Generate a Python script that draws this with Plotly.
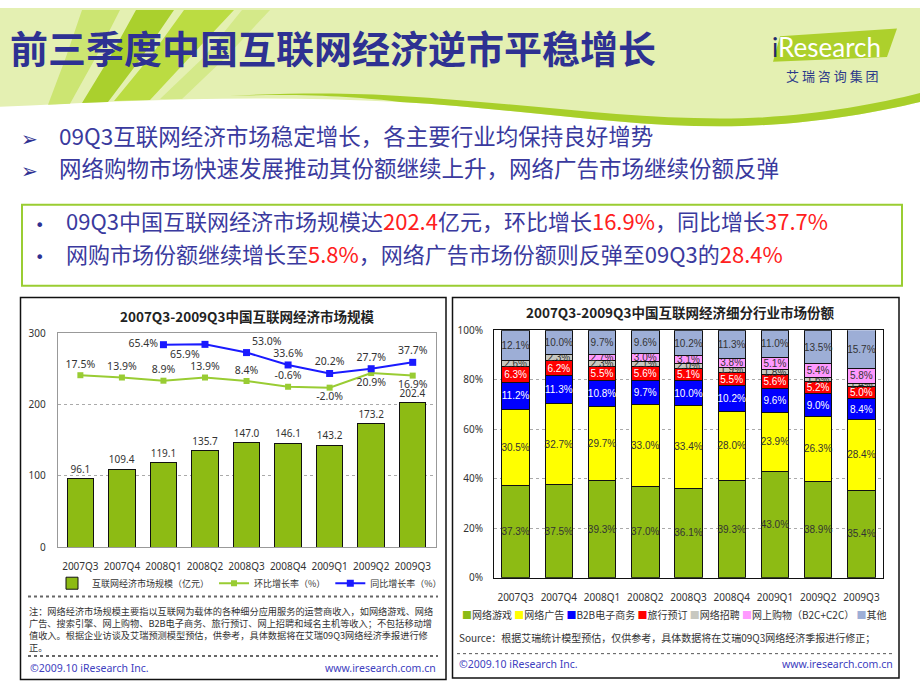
import base64
import plotly.graph_objects as go

# ---------------- data ----------------
quarters = ["2007Q3", "2007Q4", "2008Q1", "2008Q2", "2008Q3", "2008Q4", "2009Q1", "2009Q2", "2009Q3"]
market_size = [96.1, 109.4, 119.1, 135.7, 147.0, 146.1, 143.2, 173.2, 202.4]
qoq_growth = [17.5, 13.9, 8.9, 13.9, 8.4, -0.6, -2.0, 20.9, 16.9]
yoy_quarters = quarters[2:]
yoy_growth = [65.4, 65.9, 53.0, 33.6, 20.2, 27.7, 37.7]

seg_names = ["网络游戏", "网络广告", "B2B电子商务", "旅行预订", "网络招聘", "网上购物（B2C+C2C）", "其他"]
share_games = [37.3, 37.5, 39.3, 37.0, 36.1, 39.3, 43.0, 38.9, 35.4]
share_ads = [30.5, 32.7, 29.7, 33.0, 33.4, 28.0, 23.9, 26.3, 28.4]
share_b2b = [11.2, 11.3, 10.8, 9.7, 10.0, 10.2, 9.6, 9.0, 8.4]
share_travel = [6.3, 6.2, 5.5, 5.6, 5.1, 5.5, 5.6, 5.2, 5.0]
share_jobs = [2.6, 2.3, 2.3, 2.1, 2.0, 1.9, 1.8, 1.6, 1.4]
share_shop = [0.0, 0.0, 2.7, 3.0, 3.1, 3.8, 5.1, 5.4, 5.8]
share_other = [12.1, 10.0, 9.7, 9.6, 10.2, 11.3, 11.0, 13.5, 15.7]

share_series = [share_games, share_ads, share_b2b, share_travel, share_jobs, share_shop, share_other]
seg_colors = ["#8DBB14", "#FFFF00", "#0000FF", "#FF0000", "#C8C8C0", "#FF99FF", "#9DAED6"]
seg_text_colors = ["#333333", "#333333", "#FFFFFF", "#FFFFFF", "#333333", "#333333", "#333333"]
share_ticks = [0, 20, 40, 60, 80, 100]
size_ticks = [0, 100, 200, 300]

# ---------------- helpers ----------------
W, H = 920, 690
def X(p):
    return p / W
def Y(p):
    return 1 - p / H
def path(*segs):
    out = []
    for cmd, pts in segs:
        if cmd == "C":
            for i in range(0, len(pts), 3):
                out.append("C" + " ".join(f"{X(a):.5f},{Y(b):.5f}" for a, b in pts[i:i + 3]))
        else:
            for a, b in pts:
                out.append(f"{cmd}{X(a):.5f},{Y(b):.5f}")
    return " ".join(out) + " Z"

CJK = "Noto Sans CJK SC"
LAT = "Noto Sans, Noto Sans CJK SC"
NAVY = "#2E3192"
TXT = "#3A3A9E"
RED = "#FF2020"

fig = go.Figure()

# ---------------- left chart traces ----------------
fig.add_trace(go.Bar(
    x=quarters, y=market_size, xaxis="x", yaxis="y",
    name="互联网经济市场规模（亿元）",
    marker=dict(color="#8DBB14", line=dict(color="#111111", width=1)),
    text=[f"{v:.1f}" for v in market_size], textposition="outside",
    textfont=dict(size=11, color="#333333", family=LAT),
    cliponaxis=False, constraintext="none", legend="legend",
))
fig.add_trace(go.Scatter(
    x=quarters, y=qoq_growth, xaxis="x", yaxis="y2",
    name="环比增长率（%）", mode="lines+markers+text",
    line=dict(color="#99CC33", width=2),
    marker=dict(symbol="square", size=6, color="#99CC33"),
    text=[f"{v:.1f}%" for v in qoq_growth],
    textposition=["top center"] * 6 + ["bottom center"] * 3,
    textfont=dict(size=10.5, color="#333333", family=LAT),
    cliponaxis=False, legend="legend",
))
fig.add_trace(go.Scatter(
    x=yoy_quarters, y=yoy_growth, xaxis="x", yaxis="y2",
    name="同比增长率（%）", mode="lines+markers+text",
    line=dict(color="#1A1AFF", width=2),
    marker=dict(symbol="square", size=7, color="#1A1AFF"),
    text=[f"{v:.1f}%" for v in yoy_growth],
    textposition=["middle left", "bottom left", "top right", "top center", "top center", "top center", "top center"],
    textfont=dict(size=10.5, color="#333333", family=LAT),
    cliponaxis=False, legend="legend",
))

# ---------------- right chart traces ----------------
for name, vals, col, tcol in zip(seg_names, share_series, seg_colors, seg_text_colors):
    fig.add_trace(go.Bar(
        x=quarters, y=vals, xaxis="x2", yaxis="y3", name=name,
        marker=dict(color=col, line=dict(color="#111111", width=1)),
        text=[f"{v:.1f}%" if v > 0 else "" for v in vals],
        textposition="inside", insidetextanchor="middle", textangle=0,
        textfont=dict(size=10, color=tcol, family="Liberation Sans"),
        constraintext="none", showlegend=False,
    ))

# ---------------- shapes ----------------
shapes = []
# header background
shapes.append(dict(type="path", xref="paper", yref="paper", layer="below",
                   path=path(("M", [(0, 0)]), ("L", [(920, 0), (920, 96)]),
                             ("C", [(870, 108), (800, 121), (720, 121)]),
                             ("C", [(620, 121), (520, 103), (400, 96)]),
                             ("C", [(250, 88), (120, 95), (0, 101)])),
                   fillcolor="#E4F0B2", line=dict(width=0)))
# lime band along the wave
shapes.append(dict(type="path", xref="paper", yref="paper", layer="below",
                   path=path(("M", [(230, 90)]),
                             ("C", [(300, 87), (360, 91), (400, 96)]),
                             ("C", [(520, 103), (620, 121), (720, 121)]),
                             ("C", [(800, 121), (870, 108), (920, 96)]),
                             ("L", [(920, 87)]),
                             ("C", [(870, 100), (800, 113), (720, 113)]),
                             ("C", [(620, 113), (520, 97), (400, 90)]),
                             ("C", [(360, 87), (300, 86), (230, 90)])),
                   fillcolor="#A8CF2A", line=dict(width=0)))
# logo parallelogram
shapes.append(dict(type="path", xref="paper", yref="paper", layer="below",
                   path=path(("M", [(780, 29)]), ("L", [(897, 21), (887, 50), (773, 55)])),
                   fillcolor="#ADD02C", line=dict(width=0)))
# key-figure box
shapes.append(dict(type="rect", xref="paper", yref="paper", layer="below",
                   x0=X(22), x1=X(902), y0=Y(284), y1=Y(201),
                   line=dict(color="#9ACD32", width=2), fillcolor="rgba(0,0,0,0)"))
# chart panels
shapes.append(dict(type="rect", xref="paper", yref="paper", layer="below",
                   x0=X(20.5), x1=X(446), y0=Y(686.5), y1=Y(296),
                   line=dict(color="#111111", width=1.5), fillcolor="rgba(0,0,0,0)"))
shapes.append(dict(type="rect", xref="paper", yref="paper", layer="below",
                   x0=X(452.5), x1=X(899), y0=Y(685), y1=Y(296),
                   line=dict(color="#111111", width=1.5), fillcolor="rgba(0,0,0,0)"))
# separators
for yy in (601.5, 662.5):
    shapes.append(dict(type="line", xref="paper", yref="paper", layer="below",
                       x0=X(28), x1=X(438), y0=Y(yy), y1=Y(yy),
                       line=dict(color="#666666", width=2, dash="dot")))
shapes.append(dict(type="line", xref="paper", yref="paper", layer="below",
                   x0=X(457), x1=X(893), y0=Y(660), y1=Y(660),
                   line=dict(color="#555555", width=1, dash="dot")))

# decorative header blades as a small transparent SVG overlay (no text inside)
blades = [
    ("82,2 120,2 96,50 70,98 48,99 66,50", "#C9E36A"),
    ("136,2 174,2 142,50 108,96 82,97 110,50", "#A3CC1E"),
    ("184,2 234,2 190,50 150,94 114,95 150,50", "#B6D935"),
    ("242,2 270,2 226,50 182,93 160,93 204,50", "#D2E884"),
]
svg = ("<svg xmlns='http://www.w3.org/2000/svg' width='300' height='100' viewBox='0 0 300 100'>"
       + "".join(f"<polygon points='{pts}' fill='{c}' fill-opacity='0.9'/>" for pts, c in blades)
       + "</svg>")
svg_uri = "data:image/svg+xml;base64," + base64.b64encode(svg.encode()).decode()
images = [dict(source=svg_uri, xref="paper", yref="paper", x=0, y=1,
               sizex=X(300), sizey=100 / H, sizing="stretch",
               xanchor="left", yanchor="top", layer="above")]

# ---------------- annotations ----------------
ann = []
def add(text, x, y, size, color, family=CJK, xanchor="left", yanchor="middle", align="left"):
    ann.append(dict(text=text, x=X(x), y=Y(y), xref="paper", yref="paper",
                    xanchor=xanchor, yanchor=yanchor, align=align, showarrow=False,
                    font=dict(size=size, color=color, family=family)))

add("<b>前三季度中国互联网经济逆市平稳增长</b>", 8, 39, 38, NAVY)
add("<span style='color:#1F2A6B'>i</span>Research", 770, 40, 26, "#FFFFFF", family="Lato")
add("艾 瑞 咨 询 集 团", 832, 69, 13, "#2C3A8A", xanchor="center")

add("➢", 19, 134, 20, NAVY, family="DejaVu Sans")
add("➢", 19, 167, 20, NAVY, family="DejaVu Sans")
add("09Q3互联网经济市场稳定增长，各主要行业均保持良好增势", 57, 130, 22.5, TXT)
add("网络购物市场快速发展推动其份额继续上升，网络广告市场继续份额反弹", 57, 163, 22.5, TXT)

add("•", 33, 222, 16, NAVY, family="DejaVu Sans")
add("•", 33, 255, 16, NAVY, family="DejaVu Sans")
add(f"09Q3中国互联网经济市场规模达<span style='color:{RED}'>202.4</span>亿元，环比增长"
    f"<span style='color:{RED}'>16.9%</span>，同比增长<span style='color:{RED}'>37.7%</span>",
    64, 217, 22, TXT)
add(f"网购市场份额继续增长至<span style='color:{RED}'>5.8%</span>，网络广告市场份额则反弹至09Q3的"
    f"<span style='color:{RED}'>28.4%</span>", 64, 250, 22, TXT)

# chart titles
add("<b>2007Q3-2009Q3中国互联网经济市场规模</b>", 247, 315, 13.5, "#222222", xanchor="center")
add("<b>2007Q3-2009Q3中国互联网经济细分行业市场份额</b>", 680, 311, 13.5, "#222222", xanchor="center")

# left note
add("注：网络经济市场规模主要指以互联网为载体的各种细分应用服务的运营商收入，如网络游戏、网络<br>"
    "广告、搜索引擎、网上购物、B2B电子商务、旅行预订、网上招聘和域名主机等收入；不包括移动增<br>"
    "值收入。根据企业访谈及艾瑞预测模型预估，供参考，具体数据将在艾瑞09Q3网络经济季报进行修<br>"
    "正。", 27, 607, 9.2, "#333333", yanchor="top")
add("©2009.10 iResearch Inc.", 28, 675, 10.5, "#4040C0", family=LAT)
add("www.iresearch.com.cn", 438, 675, 10.5, "#4040C0", family=LAT, xanchor="right")

# right legend (built from series names/colours) and source
legend2_text = "&nbsp;".join(
    f"<span style='color:{c}'>■</span>{n}" for n, c in zip(seg_names, seg_colors))
add(legend2_text, 674, 620, 10, "#333333", xanchor="center")
add("Source：根据艾瑞统计模型预估，仅供参考，具体数据将在艾瑞09Q3网络经济季报进行修正；",
    457, 643, 10, "#333333")
add("©2009.10 iResearch Inc.", 457, 671, 10.5, "#4040C0", family=LAT)
add("www.iresearch.com.cn", 895, 671, 10.5, "#4040C0", family=LAT, xanchor="right")

tickfont = dict(size=10, color="#333333", family=LAT)

fig.update_layout(
    width=W, height=H, margin=dict(l=0, r=0, t=0, b=0),
    paper_bgcolor="#FFFFFF", plot_bgcolor="rgba(0,0,0,0)",
    barmode="stack", bargap=0.365,
    uniformtext=dict(mode="show", minsize=10),
    shapes=shapes, annotations=ann, images=images,
    xaxis=dict(domain=[X(57.7), X(436)], anchor="y", type="category",
               showline=True, linecolor="#999999", mirror=True, ticks="",
               tickfont=tickfont, ticklabelstandoff=10, showgrid=False),
    yaxis=dict(domain=[Y(551), Y(332.7)], anchor="x", range=[0, 300],
               tickvals=size_ticks, ticktext=[str(v) for v in size_ticks],
               showgrid=True, gridcolor="#AAAAAA", griddash="dot",
               showline=True, linecolor="#999999", mirror=True, zeroline=False,
               ticks="", tickfont=tickfont, ticklabelstandoff=9),
    yaxis2=dict(overlaying="y", anchor="x", range=[-252, 83], visible=False),
    xaxis2=dict(domain=[X(494), X(883)], anchor="y3", type="category",
                showline=True, linecolor="#111111", mirror=True, ticks="",
                tickfont=tickfont, ticklabelstandoff=10, showgrid=False),
    yaxis3=dict(domain=[Y(582.3), Y(329.3)], anchor="x2", range=[0, 100],
                tickvals=share_ticks, ticktext=[f"{v}%" for v in share_ticks],
                showgrid=True, gridcolor="#AAAAAA", griddash="dot",
                showline=True, linecolor="#111111", mirror=True, zeroline=False,
                ticks="", tickfont=tickfont, ticklabelstandoff=8),
    legend=dict(orientation="h", x=X(52), y=Y(588), xanchor="left", yanchor="middle",
                traceorder="normal",
                font=dict(size=9, color="#333333", family=CJK),
                bgcolor="rgba(0,0,0,0)", itemwidth=30, tracegroupgap=0),
)

fig.write_html("out.html", config={"displayModeBar": False},
               post_script="document.body.style.margin='0';")
